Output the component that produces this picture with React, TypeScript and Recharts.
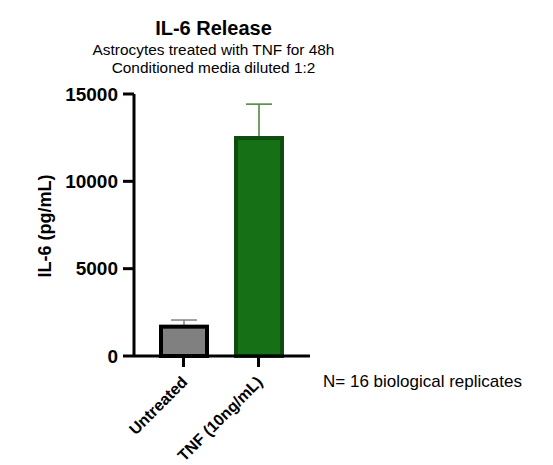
import React from "react";
import { BarChart, Bar, XAxis, YAxis } from "recharts";

const categories = ["Untreated", "TNF (10ng/mL)"];
const means = [1680, 12480];
const upperErrors = [380, 1940];
const fills = ["#808080", "#167016"];
const strokes = ["#000000", "#0f4d0f"];
const errorColors = ["#8a8a8a", "#4f8a40"];
const yTicks = [0, 5000, 10000, 15000];

const data = categories.map((name, i) => ({
  name,
  value: means[i],
  err: upperErrors[i],
  fill: fills[i],
  stroke: strokes[i],
  errColor: errorColors[i],
}));

const FONT = "Arial, 'Liberation Sans', sans-serif";

const BarWithError = (props: any) => {
  const { x, y, width, height, payload } = props;
  const cx = x + width / 2;
  const pxPerUnit = payload.value ? height / payload.value : 0;
  const yErr = y - payload.err * pxPerUnit;
  return (
    <g>
      <line x1={cx} y1={y} x2={cx} y2={yErr} stroke={payload.errColor} strokeWidth={1.6} />
      <line x1={cx - 13} y1={yErr} x2={cx + 13} y2={yErr} stroke={payload.errColor} strokeWidth={1.6} />
      <rect x={x} y={y} width={width} height={height} fill={payload.fill} stroke={payload.stroke} strokeWidth={4} />
    </g>
  );
};

const XTick = (props: any) => {
  const { x, y, payload } = props;
  const ax = x + 5;
  const ay = y + 14;
  return (
    <text
      x={ax}
      y={ay}
      textAnchor="end"
      transform={`rotate(-45, ${ax}, ${ay})`}
      fontFamily={FONT}
      fontWeight="bold"
      fontSize={16}
      fill="#000"
    >
      {payload.value}
    </text>
  );
};

export default function App() {
  return (
    <div style={{ position: "absolute", left: 0, top: 0, width: 553, height: 465, background: "#fff" }}>
      <svg width={553} height={465} style={{ position: "absolute", left: 0, top: 0 }}>
        <text x={213.5} y={35} textAnchor="middle" fontFamily={FONT} fontWeight="bold" fontSize={20} fill="#000">
          IL-6 Release
        </text>
        <text x={213.5} y={55} textAnchor="middle" fontFamily={FONT} fontSize={15.4} fill="#000">
          Astrocytes treated with TNF for 48h
        </text>
        <text x={213.5} y={72.5} textAnchor="middle" fontFamily={FONT} fontSize={15.4} fill="#000">
          Conditioned media diluted 1:2
        </text>
        <text
          x={45}
          y={226}
          textAnchor="middle"
          dominantBaseline="central"
          transform="rotate(-90, 45, 226)"
          fontFamily={FONT}
          fontWeight="bold"
          fontSize={18}
          fill="#000"
        >
          IL-6 (pg/mL)
        </text>
        <text x={323} y={387} fontFamily={FONT} fontSize={17} fill="#000">
          N= 16 biological replicates
        </text>
      </svg>
      <div style={{ position: "absolute", left: 0, top: 0 }}>
        <BarChart
          width={553}
          height={465}
          data={data}
          margin={{ top: 94, right: 243, bottom: 49, left: 54 }}
        >
          <XAxis
            dataKey="name"
            interval={0}
            padding={{ left: 12, right: 14 }}
            axisLine={{ stroke: "#000", strokeWidth: 3 }}
            tickLine={{ stroke: "#000", strokeWidth: 3 }}
            tickSize={11}
            tickMargin={2}
            height={60}
            tick={<XTick />}
          />
          <YAxis
            domain={[0, 15000]}
            ticks={yTicks}
            interval={0}
            width={80}
            axisLine={{ stroke: "#000", strokeWidth: 3 }}
            tickLine={{ stroke: "#000", strokeWidth: 3 }}
            tickSize={11}
            tickMargin={5}
            tick={{ fill: "#000", fontFamily: FONT, fontWeight: "bold", fontSize: 19 }}
          />
          <Bar dataKey="value" barSize={46} isAnimationActive={false} shape={<BarWithError />} />
        </BarChart>
      </div>
    </div>
  );
}
